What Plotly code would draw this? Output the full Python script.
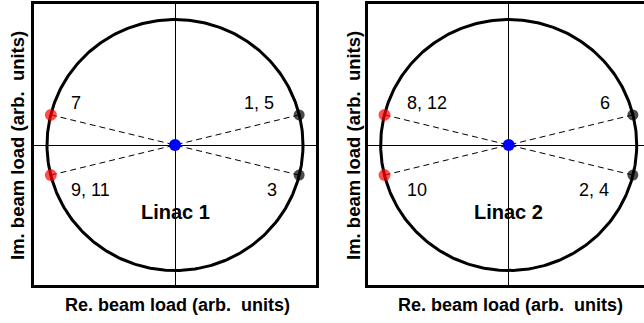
import numpy as np
import plotly.graph_objects as go

W, H = 644, 323

# Beam-load phasors (real, imaginary) in arbitrary units
linac1_re = [-0.97, -0.97, 0.97, 0.97]
linac1_im = [0.24, -0.24, 0.24, -0.24]
linac1_colors = ["red", "red", "black", "black"]
linac1_labels = ["7", "9, 11", "1, 5", "3"]
linac1_label_re = [-0.77, -0.66, 0.66, 0.76]
linac1_label_im = [0.335, -0.36, 0.335, -0.36]

linac2_re = [-0.97, -0.97, 0.97, 0.97]
linac2_im = [0.24, -0.24, 0.24, -0.24]
linac2_colors = ["red", "red", "black", "black"]
linac2_labels = ["8, 12", "10", "6", "2, 4"]
linac2_label_re = [-0.64, -0.72, 0.75, 0.67]
linac2_label_im = [0.335, -0.36, 0.335, -0.36]

panel_titles = ["Linac 1", "Linac 2"]
x_title = "Re. beam load (arb.\u00a0 units)"
y_title = "Im. beam load (arb.\u00a0 units)"

FONT = "Liberation Sans, Arial, sans-serif"

fig = go.Figure()

theta = np.linspace(0, 2 * np.pi, 361)
panels = [
    ("x", "y", linac1_re, linac1_im, linac1_colors, linac1_labels, linac1_label_re, linac1_label_im),
    ("x2", "y2", linac2_re, linac2_im, linac2_colors, linac2_labels, linac2_label_re, linac2_label_im),
]

for i, (xa, ya, re, im, cols, labs, lre, lim) in enumerate(panels):
    # unit circle
    fig.add_trace(go.Scatter(x=np.cos(theta), y=np.sin(theta), mode="lines",
                             line=dict(color="black", width=3), xaxis=xa, yaxis=ya,
                             hoverinfo="skip"))
    # dashed spokes to the origin
    for r, m in zip(re, im):
        fig.add_trace(go.Scatter(x=[r, 0], y=[m, 0], mode="lines",
                                 line=dict(color="black", width=1, dash="6px,4px"),
                                 xaxis=xa, yaxis=ya, hoverinfo="skip"))
    fig.add_trace(go.Scatter(x=re, y=im, mode="markers",
                             marker=dict(color=cols, size=[12, 12, 11, 11],
                                         line=dict(width=0)),
                             xaxis=xa, yaxis=ya, cliponaxis=False))
    fig.add_trace(go.Scatter(x=[0], y=[0], mode="markers",
                             marker=dict(color="blue", size=12, line=dict(width=0)),
                             xaxis=xa, yaxis=ya, cliponaxis=False))
    for t, lx, ly in zip(labs, lre, lim):
        fig.add_annotation(x=lx, y=ly, xref=xa, yref=ya, text=t, showarrow=False,
                           xanchor="center", yanchor="middle",
                           font=dict(family=FONT, size=18, color="black"))
    fig.add_annotation(x=0, y=-0.53, xref=xa, yref=ya, text="<b>%s</b>" % panel_titles[i],
                       showarrow=False, xanchor="center", yanchor="middle",
                       font=dict(family=FONT, size=20, color="black"))

common = dict(showgrid=False, zeroline=True, zerolinecolor="black", zerolinewidth=1,
              showticklabels=False, ticks="", linecolor="black", linewidth=3)
yr = [-1.1155, 1.1235]
fig.update_layout(
    width=W, height=H, margin=dict(l=0, r=0, t=0, b=0),
    paper_bgcolor="white", plot_bgcolor="white", showlegend=False,
    xaxis=dict(domain=[34 / W, 316 / W], range=[-1.1016, 1.1016], anchor="y",
               showline=True, mirror=True, **common),
    yaxis=dict(domain=[(H - 285) / H, (H - 4) / H], range=yr, anchor="x",
               showline=True, mirror=True, **common),
    xaxis2=dict(domain=[368 / W, 1], range=[-1.099, 1.057], anchor="y2",
                showline=True, mirror=True, **common),
    yaxis2=dict(domain=[(H - 285) / H, (H - 4) / H], range=yr, anchor="x2",
                showline=True, mirror=False, **common),
)

# axis titles
for cx in (177, 510):
    fig.add_annotation(x=cx / W, y=(H - 305) / H, xref="paper", yref="paper",
                       text="<b>%s</b>" % x_title, showarrow=False,
                       xanchor="center", yanchor="middle",
                       font=dict(family=FONT, size=18, color="black"))
for cx in (17, 353):
    fig.add_annotation(x=cx / W, y=(H - 146) / H, xref="paper", yref="paper",
                       text="<b>%s</b>" % y_title, showarrow=False, textangle=-90,
                       xanchor="center", yanchor="middle",
                       font=dict(family=FONT, size=18.5, color="black"))

fig.write_html("out.html")
